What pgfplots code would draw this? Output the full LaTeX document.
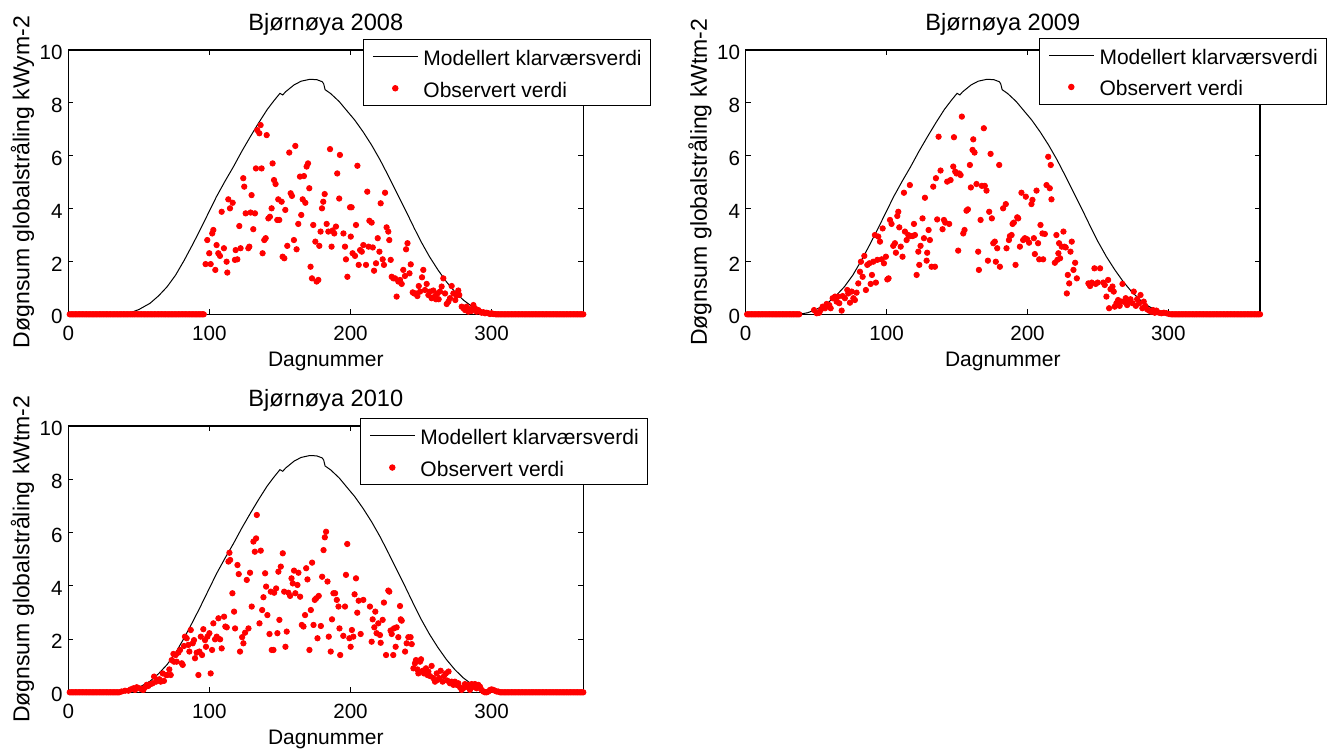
\documentclass[border=0pt]{standalone}
\usepackage{fontspec}
\setmainfont{Liberation Sans}
\usepackage{pgfplots}
\usepackage{pgfplotstable}
\pgfplotsset{compat=1.18}

\pgfplotstableread{
x y
0 0
38 0
44 0.06
50 0.18
58 0.42
64 0.7
70 1.04
76 1.48
82 2.03
88 2.63
93 3.15
99 3.8
105 4.45
111 5.03
117 5.58
123 6.17
129 6.72
135 7.25
141 7.75
146 8.1
150 8.36
152 8.3
154 8.42
160 8.68
165 8.82
171 8.89
176 8.88
180 8.8
181 8.72
182 8.5
186 8.35
192 8.05
197 7.73
203 7.35
209 6.9
215 6.4
221 5.84
227 5.22
233 4.58
239 3.94
245 3.28
250 2.75
256 2.18
262 1.68
268 1.23
274 0.85
280 0.54
286 0.3
292 0.15
297 0.06
302 0.01
305 0
365 0
}\model

\pgfplotsset{
 bjstyle/.style={
  scale only axis,
  xmin=0, xmax=365, ymin=0, ymax=10,
  xtick={0,100,200,300}, ytick={0,2,4,6,8,10},
  tick align=inside, major tick length=2.5pt,
  axis line style={line width=0.65pt},
  tick style={black, line width=0.5pt},
  clip=false,
  /pgf/number format/assume math mode=true,
  tick label style={font=\fontsize{10.3}{12}\selectfont},
  xticklabel style={inner sep=0pt, anchor=base, yshift=-12.85pt},
  yticklabel style={inner sep=0pt, anchor=east, xshift=-2.65pt, yshift=-1.2pt},
  xlabel={Dagnummer},
  every axis x label/.style={at={(axis description cs:0.5,-0.1956)}, anchor=base, font=\fontsize{10.5}{12}\selectfont},
  every axis y label/.style={at={(axis description cs:-0.0889,0.5)}, anchor=center, rotate=90, font=\fontsize{11.5}{13}\selectfont},
  every axis title/.style={at={(axis description cs:0.5,1.075)}, anchor=base, font=\fontsize{11.8}{14}\selectfont},
  legend cell align=left,
  legend style={draw=black, line width=0.5pt, fill=white, inner xsep=4.5pt, inner ysep=2.5pt, anchor=north west,
    font=\fontsize{10.5}{12}\selectfont, nodes={inner sep=0pt, text height=10.5pt, text depth=1.65pt},
    /tikz/column sep=2.7pt, /tikz/row sep=3.65pt},
 },
 modelline/.style={black, line width=0.5pt, no markers, legend image code/.code={\draw[##1] (0pt,0pt) -- (22.3pt,0pt);}},
 obsdots/.style={only marks, mark=*, mark size=1.35pt, red, mark options={fill=red, draw=none}, legend image code/.code={\draw[##1] plot coordinates {(11.15pt,0pt)};}},
}

\begin{document}
\begin{tikzpicture}
\path[use as bounding box] (0,0) rectangle (667.5pt,-375.5pt);

% ---------------- 2008 ----------------
\begin{axis}[bjstyle, at={(34.15pt,-157.15pt)}, anchor=south west, width=257.5pt, height=132.15pt,
  title={Bjørnøya 2008}, ylabel={Døgnsum globalstråling kWym-2}, legend style={at={(0.5722,1.0416)}}]
\addplot[modelline] table {\model};
\addplot[obsdots] coordinates {
(97.3,1.90) (98.5,2.81) (99.9,2.31) (100.9,1.90) (102.0,3.06) (102.8,3.19) (104.2,1.68) (105.1,2.62) (106.3,2.31) (107.5,2.21)
(108.7,3.88) (110.3,2.50) (112.2,1.99) (112.7,1.58) (113.4,4.35) (114.6,4.01) (116.5,4.22) (118.1,2.06) (118.6,2.43) (119.8,2.08)
(121.2,3.34) (122.1,2.50) (124.0,5.15) (124.7,4.83) (125.7,3.82) (127.6,2.50) (128.3,2.56) (129.2,3.85) (129.9,4.51) (131.1,3.22)
(132.3,3.82) (133.0,5.52) (133.9,6.97) (135.4,6.85) (136.3,7.16) (137.0,5.52) (137.7,2.31) (138.9,2.81) (139.9,2.88) (140.6,6.78)
(141.8,3.63) (142.9,3.69) (144.1,4.01) (144.8,5.71) (145.8,5.08) (146.9,4.93) (148.1,3.57) (148.8,4.35) (149.5,3.57) (151.2,4.26)
(151.9,2.18) (153.1,2.12) (153.8,3.95) (155.2,2.59) (156.6,6.12) (157.6,4.58) (158.5,4.48) (159.9,2.81) (160.9,6.37) (161.8,2.46)
(163.0,3.42) (164.2,5.21) (165.1,3.76) (166.1,4.35) (167.0,5.23) (168.0,4.22) (168.9,5.59) (169.9,5.71) (170.8,4.77) (171.7,1.80)
(172.7,1.36) (173.6,3.38) (175.1,2.75) (176.0,1.24) (177.2,1.30) (177.9,2.59) (178.8,3.13) (179.8,4.01) (180.7,4.26) (181.7,4.55)
(183.1,3.42) (184.3,3.13) (185.5,6.25) (186.6,2.56) (187.3,3.17) (188.5,3.06) (189.7,3.32) (190.6,5.33) (192.0,4.38) (192.5,6.03)
(195.0,3.06) (196.1,2.56) (196.8,2.08) (197.8,1.42) (199.7,4.05) (200.2,2.94) (200.8,4.05) (201.5,2.31) (203.2,2.21) (203.9,3.38)
(204.9,5.62) (205.8,1.87) (206.8,2.43) (208.0,2.37) (209.1,2.62) (211.0,1.87) (211.9,4.64) (212.8,2.56) (213.4,3.54) (215.0,3.47)
(215.8,2.53) (216.7,1.65) (218.1,1.93) (219.3,2.88) (220.5,2.37) (221.4,4.20) (222.8,2.08) (223.7,1.87) (224.5,4.60) (225.6,3.29)
(226.8,3.13) (227.5,2.81) (228.5,2.06) (229.2,1.42) (230.4,1.36) (231.6,1.36) (232.7,0.67) (233.9,1.24) (235.1,1.30) (236.3,1.15)
(237.4,1.68) (238.6,1.45) (239.4,2.46) (240.4,2.69) (241.8,1.55) (242.7,1.89) (244.1,0.83) (245.1,0.79) (246.4,0.79) (247.4,0.69)
(248.4,1.07) (249.3,0.86) (250.7,1.40) (251.6,1.68) (252.8,0.92) (254.0,1.15) (255.2,0.73) (256.4,0.86) (257.5,0.61) (258.7,0.90)
(259.9,0.69) (260.6,0.57) (261.6,0.79) (262.5,0.57) (263.4,0.86) (264.6,1.05) (265.8,1.36) (267.0,0.79) (268.2,0.39) (269.4,0.48)
(270.5,0.61) (271.7,1.07) (272.9,0.79) (274.3,0.54) (275.2,0.73) (276.4,0.90) (277.1,0.73) (278.8,0.29) (280.0,0.23) (281.2,0.16)
(282.3,0.29) (283.5,0.10) (284.7,0.19) (285.9,0.13) (287.1,0.35) (288.2,0.23) (289.4,0.10) (290.6,0.16) (291.8,0.10) (293.0,0.06)
(294.2,0.08) (295.3,0.04) (296.5,0.06) (297.7,0.04) (298.9,0.01) (300.0,0.04) (301.2,0.01) (302.4,0.01)
(1,0) (2,0) (3,0) (4,0) (5,0) (6,0) (7,0) (8,0) (9,0) (10,0) (11,0) (12,0) (13,0) (14,0) (15,0) (16,0) (17,0) (18,0) (19,0) (20,0)
(21,0) (22,0) (23,0) (24,0) (25,0) (26,0) (27,0) (28,0) (29,0) (30,0) (31,0) (32,0) (33,0) (34,0) (35,0) (36,0) (37,0) (38,0) (39,0) (40,0)
(41,0) (42,0) (43,0) (44,0) (45,0) (46,0) (47,0) (48,0) (49,0) (50,0) (51,0) (52,0) (53,0) (54,0) (55,0) (56,0) (57,0) (58,0) (59,0) (60,0)
(61,0) (62,0) (63,0) (64,0) (65,0) (66,0) (67,0) (68,0) (69,0) (70,0) (71,0) (72,0) (73,0) (74,0) (75,0) (76,0) (77,0) (78,0) (79,0) (80,0)
(81,0) (82,0) (83,0) (84,0) (85,0) (86,0) (87,0) (88,0) (89,0) (90,0) (91,0) (92,0) (93,0) (94,0) (95,0) (96,0)
(303,0) (304,0) (305,0) (306,0) (307,0) (308,0) (309,0) (310,0) (311,0) (312,0) (313,0) (314,0) (315,0) (316,0) (317,0) (318,0) (319,0) (320,0)
(321,0) (322,0) (323,0) (324,0) (325,0) (326,0) (327,0) (328,0) (329,0) (330,0) (331,0) (332,0) (333,0) (334,0) (335,0) (336,0) (337,0) (338,0)
(339,0) (340,0) (341,0) (342,0) (343,0) (344,0) (345,0) (346,0) (347,0) (348,0) (349,0) (350,0) (351,0) (352,0) (353,0) (354,0) (355,0) (356,0)
(357,0) (358,0) (359,0) (360,0) (361,0) (362,0) (363,0) (364,0) (365,0)
};
\legend{Modellert klarværsverdi, Observert verdi}
\end{axis}

% ---------------- 2009 ----------------
\begin{axis}[bjstyle, at={(372.85pt,-157.15pt)}, anchor=south west, width=257.15pt, height=132.15pt,
  title={Bjørnøya 2009}, ylabel={Døgnsum globalstråling kWtm-2}, legend style={at={(0.5703,1.0465)}}]
\addplot[modelline] table {\model};
\addplot[obsdots] coordinates {
(48.5,0.16) (50.4,0.04) (52.2,0.06) (53.2,0.16) (54.6,0.29) (56.3,0.23) (57.4,0.39) (59.3,0.35) (60.3,0.23) (61.7,0.61)
(63.4,0.67) (64.5,0.48) (65.7,0.67) (66.4,0.42) (68.1,0.14) (68.8,0.69) (70.4,0.61) (72.1,0.92) (72.8,0.79) (74.0,0.44)
(75.2,0.86) (76.4,0.61) (77.5,0.54) (78.7,0.82) (79.9,1.17) (81.1,1.61) (81.8,1.99) (83.0,1.42) (84.2,2.21) (85.3,0.92)
(86.3,1.87) (87.7,1.93) (88.7,1.15) (89.6,1.49) (90.5,1.99) (91.7,3.00) (92.4,1.20) (93.4,2.06) (94.1,2.94) (95.3,2.75)
(96.5,2.08) (97.2,3.25) (98.1,1.93) (99.5,2.18) (100.5,1.32) (101.4,1.36) (102.4,3.57) (103.5,3.42) (104.7,2.59) (105.9,2.69)
(106.6,2.33) (107.6,3.72) (108.3,3.88) (109.0,3.29) (110.0,2.56) (111.3,2.18) (112.3,4.60) (113.0,3.13) (114.2,2.81) (115.4,3.00)
(116.5,4.89) (117.0,2.96) (118.4,2.96) (119.4,3.42) (120.1,3.00) (121.3,1.49) (122.5,2.37) (123.2,1.87) (124.1,2.59) (125.5,3.63)
(126.5,2.88) (127.2,4.41) (128.4,2.03) (128.8,2.33) (129.8,3.19) (130.7,2.81) (131.9,1.80) (133.1,4.83) (134.3,1.80) (135.0,5.15)
(135.9,3.59) (136.9,6.72) (138.3,5.44) (139.7,3.22) (140.7,3.57) (141.6,3.47) (143.0,5.02) (144.4,3.42) (145.4,5.08) (147.3,5.59)
(147.8,6.70) (148.7,5.40) (149.6,5.33) (150.8,2.41) (151.5,5.33) (152.5,5.27) (153.4,7.48) (154.4,3.06) (155.3,3.19) (156.7,3.92)
(157.7,3.97) (159.1,5.65) (159.8,4.80) (161.0,6.22) (161.5,6.62) (162.4,6.12) (163.8,4.93) (165.0,2.37) (165.5,1.68) (166.7,3.57)
(167.6,4.86) (169.0,7.04) (169.7,4.86) (170.9,4.68) (171.9,2.03) (172.8,3.88) (173.8,6.07) (174.7,3.63) (175.7,2.69) (176.8,2.75)
(177.5,1.99) (178.5,2.50) (179.9,5.65) (180.4,1.80) (182.7,4.01) (184.6,4.17) (185.1,2.50) (186.8,2.81) (187.5,2.96) (188.7,3.00)
(189.4,3.42) (190.3,3.47) (191.5,1.87) (192.7,3.67) (193.4,3.63) (194.6,2.56) (195.7,4.60) (196.9,2.81) (198.1,2.88) (198.8,4.45)
(199.7,2.84) (201.1,2.71) (202.8,4.17) (203.5,4.33) (204.5,2.88) (205.2,2.28) (206.4,4.68) (207.5,2.69) (208.3,2.08) (209.2,3.38)
(210.6,3.06) (211.1,2.08) (212.3,3.04) (213.5,4.89) (214.7,5.96) (215.8,4.77) (216.5,5.65) (217.0,4.35) (219.4,1.95) (220.5,3.00)
(221.2,2.06) (221.9,2.31) (222.4,2.69) (223.1,2.12) (224.3,2.56) (225.5,3.13) (226.2,2.56) (227.1,2.53) (227.9,0.79) (228.6,1.49)
(229.6,1.17) (230.5,2.37) (231.4,2.75) (232.6,1.68) (233.8,1.95) (235.0,1.36) (243.2,1.17) (244.4,1.07) (245.6,1.20) (247.5,1.74)
(248.4,1.15) (249.8,1.20) (251.5,1.74) (253.7,1.20) (254.8,1.11) (256.0,0.67) (257.2,1.30) (257.9,0.23) (258.9,0.95) (260.3,1.05)
(261.2,0.86) (261.9,0.29) (263.1,0.42) (264.3,0.54) (265.4,0.32) (266.6,0.48) (267.4,1.15) (268.3,0.48) (269.7,0.61) (270.7,0.35)
(272.1,0.48) (273.1,0.57) (274.5,0.42) (275.4,0.86) (276.9,0.32) (277.8,0.57) (279.2,0.42) (280.2,0.73) (281.5,0.23) (282.5,0.48)
(283.5,0.32) (284.9,0.19) (286.3,0.14) (287.7,0.10) (289.1,0.16) (290.3,0.06) (291.5,0.14) (293.4,0.06) (295.0,0.04) (296.7,0.06)
(298.6,0.04) (300.5,0.01)
(1,0) (2,0) (3,0) (4,0) (5,0) (6,0) (7,0) (8,0) (9,0) (10,0) (11,0) (12,0) (13,0) (14,0) (15,0) (16,0) (17,0) (18,0) (19,0) (20,0)
(21,0) (22,0) (23,0) (24,0) (25,0) (26,0) (27,0) (28,0) (29,0) (30,0) (31,0) (32,0) (33,0) (34,0) (35,0) (36,0) (37,0) (38,0)
(302,0) (303,0) (304,0) (305,0) (306,0) (307,0) (308,0) (309,0) (310,0) (311,0) (312,0) (313,0) (314,0) (315,0) (316,0) (317,0) (318,0) (319,0) (320,0)
(321,0) (322,0) (323,0) (324,0) (325,0) (326,0) (327,0) (328,0) (329,0) (330,0) (331,0) (332,0) (333,0) (334,0) (335,0) (336,0) (337,0) (338,0)
(339,0) (340,0) (341,0) (342,0) (343,0) (344,0) (345,0) (346,0) (347,0) (348,0) (349,0) (350,0) (351,0) (352,0) (353,0) (354,0) (355,0) (356,0)
(357,0) (358,0) (359,0) (360,0) (361,0) (362,0) (363,0) (364,0) (365,0)
};
\legend{Modellert klarværsverdi, Observert verdi}
\end{axis}

% ---------------- 2010 ----------------
\begin{axis}[bjstyle, at={(34.15pt,-346.15pt)}, anchor=south west, width=257.5pt, height=133.15pt,
  title={Bjørnøya 2010}, ylabel={Døgnsum globalstråling kWtm-2}, legend style={at={(0.5664,1.029)}}]
\addplot[modelline] table {\model};
\addplot[obsdots] coordinates {
(37.8,0.03) (40.2,0.06) (42.6,0.06) (44.2,0.11) (46.1,0.15) (47.3,0.09) (48.5,0.19) (50.4,0.15) (52.0,0.11) (53.2,0.09)
(54.4,0.19) (55.6,0.28) (56.7,0.24) (58.4,0.31) (59.8,0.34) (60.8,0.59) (62.2,0.40) (63.1,0.46) (64.5,0.49) (65.5,0.40)
(66.9,0.71) (67.8,0.43) (69.3,0.65) (70.2,0.65) (71.6,0.86) (72.6,0.65) (73.3,1.21) (74.5,1.44) (74.9,1.15) (76.1,1.40)
(76.8,1.15) (78.0,1.49) (79.2,1.59) (80.4,1.09) (81.1,1.03) (82.0,1.74) (82.7,2.09) (83.9,2.03) (85.1,1.78) (85.8,1.53)
(86.8,2.34) (88.2,1.84) (89.1,1.96) (89.8,1.28) (91.0,1.49) (92.2,0.65) (92.9,1.53) (93.9,2.09) (94.8,1.40) (95.7,2.37)
(96.9,1.96) (97.6,1.71) (98.6,2.09) (100.0,2.22) (100.9,0.71) (101.9,1.59) (102.8,2.59) (104.0,1.99) (105.2,2.09) (106.4,2.78)
(107.6,1.99) (108.7,1.65) (110.4,2.84) (111.3,2.47) (112.3,2.44) (113.5,4.91) (114.2,5.24) (114.7,4.97) (116.3,3.72) (117.5,3.03)
(118.2,2.40) (119.9,4.78) (120.8,4.44) (121.7,1.53) (123.2,2.07) (124.1,1.84) (125.3,2.24) (126.5,4.22) (127.7,2.40) (128.8,4.49)
(130.0,3.22) (131.2,5.66) (132.2,5.28) (133.1,5.78) (133.6,6.66) (135.5,2.59) (136.4,5.32) (137.4,3.09) (138.3,3.57) (139.5,4.47)
(140.2,3.97) (141.1,2.90) (142.6,2.19) (143.5,3.78) (144.2,1.59) (145.4,1.59) (145.9,3.74) (147.3,3.90) (148.2,2.22) (148.9,4.53)
(149.6,2.72) (150.6,4.72) (152.0,5.22) (153.0,3.78) (153.9,1.71) (154.8,2.28) (156.0,3.74) (157.2,3.62) (158.2,4.28) (159.1,4.09)
(160.0,4.57) (160.9,3.72) (162.4,4.03) (163.1,4.49) (164.3,3.59) (165.5,2.53) (166.7,2.47) (167.8,2.90) (168.6,4.66) (169.5,4.24)
(170.9,1.59) (171.9,3.09) (172.8,4.87) (173.8,2.53) (174.7,3.47) (175.7,3.53) (176.6,2.03) (177.5,3.62) (179.0,2.49) (179.9,4.34)
(180.9,5.34) (181.8,5.82) (182.7,6.03) (183.7,4.16) (184.6,2.09) (186.0,1.53) (186.9,2.74) (187.9,3.72) (189.1,3.72) (190.3,3.47)
(191.5,3.22) (192.2,2.40) (192.7,1.40) (194.9,2.12) (196.1,3.22) (196.8,4.41) (197.7,5.57) (199.2,2.03) (200.1,1.71) (201.0,2.34)
(202.0,2.09) (202.9,3.68) (203.9,4.28) (204.8,2.99) (205.8,3.44) (207.2,2.19) (209.1,3.47) (213.8,3.22) (215.0,1.90) (215.7,2.74)
(216.9,2.44) (217.6,3.03) (218.5,2.22) (219.7,2.59) (220.9,2.15) (221.4,1.86) (222.8,2.72) (223.7,3.37) (225.2,1.40) (226.8,3.82)
(227.5,3.78) (228.4,2.32) (229.2,2.19) (230.3,1.40) (230.8,2.40) (232.0,1.71) (232.7,2.44) (233.9,2.07) (235.1,3.24) (235.6,2.74)
(236.3,2.69) (238.7,1.53) (239.8,1.84) (241.0,2.07) (242.6,2.07) (243.4,1.81) (244.6,0.90) (245.7,1.09) (246.4,1.21) (247.4,0.86)
(248.1,0.71) (249.3,1.15) (250.0,1.24) (251.2,0.81) (252.1,0.71) (253.5,0.90) (254.5,0.65) (255.2,0.78) (256.4,0.61) (257.5,0.99)
(258.7,0.53) (259.9,0.40) (261.1,0.71) (261.5,0.46) (263.0,0.53) (263.9,0.81) (265.3,0.40) (266.3,0.61) (267.6,0.71) (268.6,0.44)
(269.5,0.78) (270.5,0.34) (271.7,0.40) (272.9,0.28) (274.0,0.40) (275.2,0.28) (276.4,0.34) (277.6,0.19) (278.8,0.09) (279.9,0.15)
(281.1,0.31) (282.3,0.21) (283.5,0.28) (284.7,0.09) (285.9,0.31) (287.1,0.21) (288.2,0.31) (289.4,0.15) (290.6,0.28) (291.8,0.21)
(293.0,0.09) (294.2,0.03) (295.3,0.00) (296.5,0.00) (297.7,0.03) (298.9,0.09) (300.0,0.11) (301.2,0.09) (302.4,0.06) (303.6,0.03)
(304.7,0.03)
(1,0) (2,0) (3,0) (4,0) (5,0) (6,0) (7,0) (8,0) (9,0) (10,0) (11,0) (12,0) (13,0) (14,0) (15,0) (16,0) (17,0) (18,0) (19,0) (20,0)
(21,0) (22,0) (23,0) (24,0) (25,0) (26,0) (27,0) (28,0) (29,0) (30,0) (31,0) (32,0) (33,0) (34,0) (35,0) (36,0)
(306,0) (307,0) (308,0) (309,0) (310,0) (311,0) (312,0) (313,0) (314,0) (315,0) (316,0) (317,0) (318,0) (319,0) (320,0)
(321,0) (322,0) (323,0) (324,0) (325,0) (326,0) (327,0) (328,0) (329,0) (330,0) (331,0) (332,0) (333,0) (334,0) (335,0) (336,0) (337,0) (338,0)
(339,0) (340,0) (341,0) (342,0) (343,0) (344,0) (345,0) (346,0) (347,0) (348,0) (349,0) (350,0) (351,0) (352,0) (353,0) (354,0) (355,0) (356,0)
(357,0) (358,0) (359,0) (360,0) (361,0) (362,0) (363,0) (364,0) (365,0)
};
\legend{Modellert klarværsverdi, Observert verdi}
\end{axis}
\end{tikzpicture}
\end{document}
